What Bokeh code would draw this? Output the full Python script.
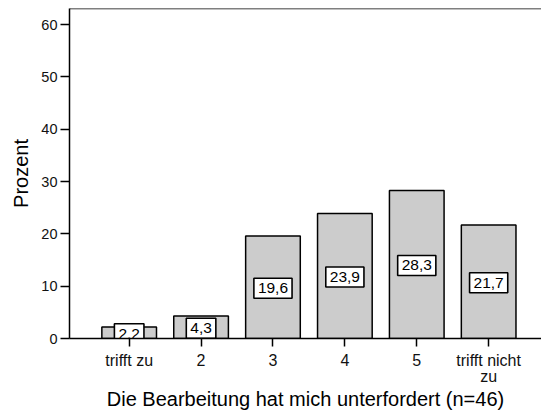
from bokeh.plotting import figure
from bokeh.models import ColumnDataSource, Span, FixedTicker
from bokeh.core.properties import value
from bokeh.embed import file_html
from bokeh.resources import INLINE

categories = ["trifft zu", "2", "3", "4", "5", "trifft nicht\nzu"]
positions = [1, 2, 3, 4, 5, 6]
percent = [2.2, 4.3, 19.6, 23.9, 28.3, 21.7]
labels = ["2,2", "4,3", "19,6", "23,9", "28,3", "21,7"]
y_ticks = [0, 10, 20, 30, 40, 50, 60]

FONT = "Liberation Sans"
Y_TOP = 63.06

src = ColumnDataSource(dict(
    x=positions,
    top=percent,
    mid=[v / 2 for v in percent],
    lab=labels,
))

p = figure(width=541, height=415, output_backend="svg", toolbar_location=None,
           x_range=(0.170, 6.735), y_range=(0, Y_TOP),
           min_border_left=69, min_border_right=0, min_border_top=8,
           min_border_bottom=77)
p.outline_line_color = None
p.grid.visible = False
p.background_fill_color = "white"

p.vbar(x="x", top="top", bottom=0, width=0.76, source=src,
       fill_color="#cccccc", line_color="black", line_width=1.5)

p.text(x="x", y="mid", text="lab", source=src, y_offset=1,
       text_align="center", text_baseline="middle",
       text_font=value(FONT), text_font_size="15.5px", text_color="black",
       background_fill_color="white", border_line_color="black",
       border_line_width=1.6, padding=dict(x=4, y=5))

p.add_layout(Span(location=Y_TOP, dimension="width", line_color="black", line_width=1.5))

p.yaxis.ticker = FixedTicker(ticks=y_ticks)
p.xaxis.ticker = FixedTicker(ticks=positions)
p.xaxis.major_label_overrides = {pos: cat for pos, cat in zip(positions, categories)}

for ax in (p.xaxis, p.yaxis):
    ax.axis_line_color = "black"
    ax.axis_line_width = 1.5
    ax.major_tick_line_color = "black"
    ax.major_tick_line_width = 1.5
    ax.minor_tick_line_color = None
    ax.major_tick_in = 0
    ax.major_label_text_font = FONT
    ax.major_label_text_color = "#111111"
    ax.axis_label_text_font = FONT
    ax.axis_label_text_font_size = "20px"
    ax.axis_label_text_font_style = "normal"
    ax.axis_label_text_color = "black"

p.xaxis.major_tick_out = 8
p.yaxis.major_tick_out = 9
p.xaxis.major_label_text_font_size = "16px"
p.yaxis.major_label_text_font_size = "14.5px"
p.xaxis.major_label_text_line_height = 0.95
p.yaxis.major_label_standoff = 3
p.xaxis.major_label_standoff = 5
p.xaxis.axis_label = "Die Bearbeitung hat mich unterfordert (n=46)"
p.yaxis.axis_label = "Prozent"
p.xaxis.axis_label_standoff = 0
p.yaxis.axis_label_standoff = 6

open("out.html", "w").write(file_html(p, INLINE))
